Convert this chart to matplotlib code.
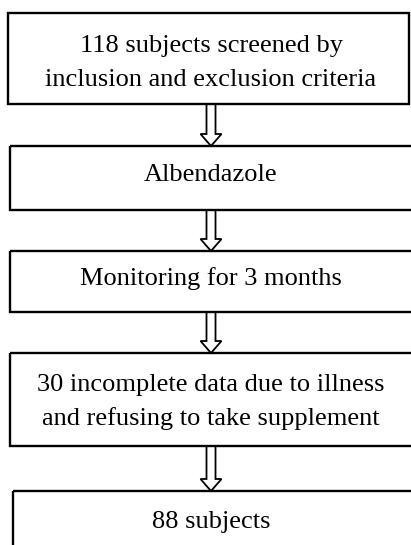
import matplotlib.pyplot as plt
from matplotlib.patches import Polygon, Rectangle

# flowchart steps, top to bottom
labels = [
    "118 subjects screened by\ninclusion and exclusion criteria",
    "Albendazole",
    "Monitoring for 3 months",
    "30 incomplete data due to illness\nand refusing to take supplement",
    "88 subjects",
]

# box layout in pixel units (y grows downwards)
box_top = [13, 146, 251, 353, 491]
box_bottom = [104, 210, 312, 446, 560]
box_left = [8, 10, 10, 10, 13]
box_right = [409, 420, 420, 420, 420]
text_y = [63, 175, 279, 402, 522]


def draw_arrow(ax, x, y0, y1):
    """Hollow block arrow from y0 down to y1"""
    shaft = 4.5
    head = 10.5
    head_len = 12
    pts = [
        (x - shaft, y0), (x + shaft, y0), (x + shaft, y1 - head_len),
        (x + head, y1 - head_len), (x, y1), (x - head, y1 - head_len),
        (x - shaft, y1 - head_len),
    ]
    ax.add_patch(Polygon(pts, closed=True, fill=False, ec="black", lw=1.3))


fig = plt.figure(figsize=(4.11, 5.45), dpi=100)
ax = fig.add_axes([0, 0, 1, 1])
ax.set_xlim(0, 411)
ax.set_ylim(545, 0)
ax.axis("off")

for i, label in enumerate(labels):
    ax.add_patch(Rectangle((box_left[i], box_top[i]), box_right[i] - box_left[i],
                           box_bottom[i] - box_top[i], fill=False, ec="black", lw=1.7))
    ax.text(211, text_y[i], label, ha="center", va="center", fontsize=19,
            family="Liberation Serif", linespacing=1.65)

for i in range(len(labels) - 1):
    draw_arrow(ax, 211, box_bottom[i], box_top[i + 1])

fig.savefig("out.png", dpi=100)
